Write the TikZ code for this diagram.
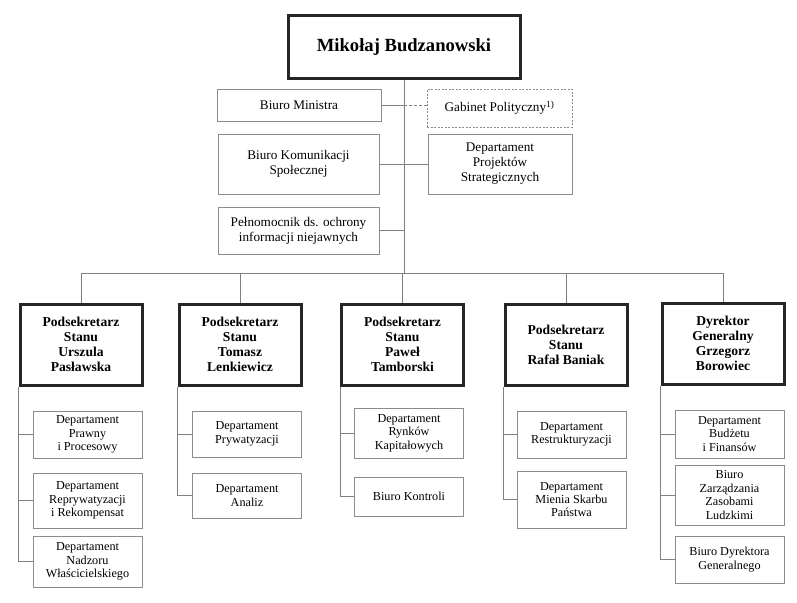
\documentclass[tikz,border=0pt]{standalone}
\usepackage{fontspec}
\setmainfont{Liberation Serif}
\usetikzlibrary{positioning,calc}

\begin{document}
\begin{tikzpicture}
[x=1pt,y=-1pt,
line/.style={black!50,line width=.9pt},
box/.style={draw=black!45,line width=.9pt,inner sep=0pt,align=center,
  font=\fontsize{13.2}{15}\selectfont},
head/.style={draw=black!85,line width=3pt,inner sep=0pt,align=center,
  minimum width=122pt,minimum height=81pt,
  font=\fontsize{13.6}{15}\selectfont\bfseries},
sub/.style={box,minimum width=109pt,font=\fontsize{12.2}{13.4}\selectfont}]
\useasboundingbox (0,0) rectangle (797,602);
%%
\node[draw=black!85,line width=3pt,minimum width=232pt,minimum height=62pt,
  font=\fontsize{18.6}{20}\selectfont\bfseries] (boss) at (404,47) {Mikołaj Budzanowski};
%%
\node[box,minimum width=164pt,minimum height=32pt] (minister) at (299,105) {Biuro Ministra};
\node[box,dash pattern=on 2pt off 1.5pt,minimum width=145pt,minimum height=38pt]
  (gabinet) at (499.5,108) {Gabinet Polityczny\textsuperscript{1)}};
%%
\node[box,minimum width=161pt,minimum height=60pt] (komunikacja) at (298.5,164)
  {Biuro Komunikacji\\Społecznej};
\node[box,minimum width=144pt,minimum height=60pt] (projekty) at (500,164)
  {Departament\\Projektów\\Strategicznych};
%%
\node[box,minimum width=161pt,minimum height=47pt] (pelnomocnik) at (298.5,230.5)
  {Pełnomocnik ds. ochrony\\informacji niejawnych};
%%
\coordinate (bus) at (404,273);
%%
\node[head] (ps1) at (81,344.5) {Podsekretarz\\Stanu\\Urszula\\Pasławska};
\node[head] (ps2) at (240,344.5) {Podsekretarz\\Stanu\\Tomasz\\Lenkiewicz};
\node[head] (ps3) at (402.5,344.5) {Podsekretarz\\Stanu\\Paweł\\Tamborski};
\node[head] (ps4) at (566,344.5) {Podsekretarz\\Stanu\\Rafał Baniak};
\node[head] (dg) at (723,343.5) {Dyrektor\\Generalny\\Grzegorz\\Borowiec};
%%
\node[sub,minimum height=47pt] (prawny) at (87.5,434.5) {Departament\\Prawny\\i Procesowy};
\node[sub,minimum height=55pt] (reprywatyzacja) at (87.5,500.5)
  {Departament\\Reprywatyzacji\\i Rekompensat};
\node[sub,minimum height=51pt] (nadzor) at (87.5,561.5)
  {Departament\\Nadzoru\\Właścicielskiego};
%%
\node[sub,minimum height=46pt] (prywatyzacja) at (247,434) {Departament\\Prywatyzacji};
\node[sub,minimum height=45pt] (analizy) at (247,495.5) {Departament\\Analiz};
%%
\node[sub,minimum height=50pt] (rynki) at (409,433) {Departament\\Rynków\\Kapitałowych};
\node[sub,minimum height=39pt] (kontrola) at (409,496.5) {Biuro Kontroli};
%%
\node[sub,minimum height=47pt] (restrukturyzacja) at (571.5,434.5)
  {Departament\\Restrukturyzacji};
\node[sub,minimum height=57pt] (mienie) at (571.5,499.5)
  {Departament\\Mienia Skarbu\\Państwa};
%%
\node[sub,minimum height=48pt] (budzet) at (729.5,434) {Departament\\Budżetu\\i Finansów};
\node[sub,minimum height=60pt] (kadry) at (729.5,495)
  {Biuro\\Zarządzania\\Zasobami\\Ludzkimi};
\node[sub,minimum height=47pt] (biurodg) at (729.5,559.5)
  {Biuro Dyrektora\\Generalnego};
%%
\draw[line] (boss.south) -- (bus);
\draw[line] (minister.east) -- (boss.south |- minister.east);
\draw[line,dashed,dash pattern=on 3pt off 2pt] (boss.south |- minister.east)
  -- (gabinet.west |- minister.east);
\draw[line] (komunikacja.east) -- (projekty.west);
\draw[line] (pelnomocnik.east) -- (boss.south |- pelnomocnik.east);
\draw[line] (ps1.north |- bus) -- (dg.north |- bus);
\foreach \h in {ps1,ps2,ps3,ps4,dg}
  \draw[line] (\h.north) -- (\h.north |- bus);
%%
\draw[line] (ps1.south west) |- (nadzor.west);
\foreach \d in {prawny,reprywatyzacja}
  \draw[line] (ps1.south west |- \d.west) -- (\d.west);
\draw[line] (ps2.south west) |- (analizy.west);
\draw[line] (ps2.south west |- prywatyzacja.west) -- (prywatyzacja.west);
\draw[line] (ps3.south west) |- (kontrola.west);
\draw[line] (ps3.south west |- rynki.west) -- (rynki.west);
\draw[line] (ps4.south west) |- (mienie.west);
\draw[line] (ps4.south west |- restrukturyzacja.west) -- (restrukturyzacja.west);
\draw[line] (dg.south west) |- (biurodg.west);
\foreach \d in {budzet,kadry}
  \draw[line] (dg.south west |- \d.west) -- (\d.west);
\end{tikzpicture}
\end{document}
